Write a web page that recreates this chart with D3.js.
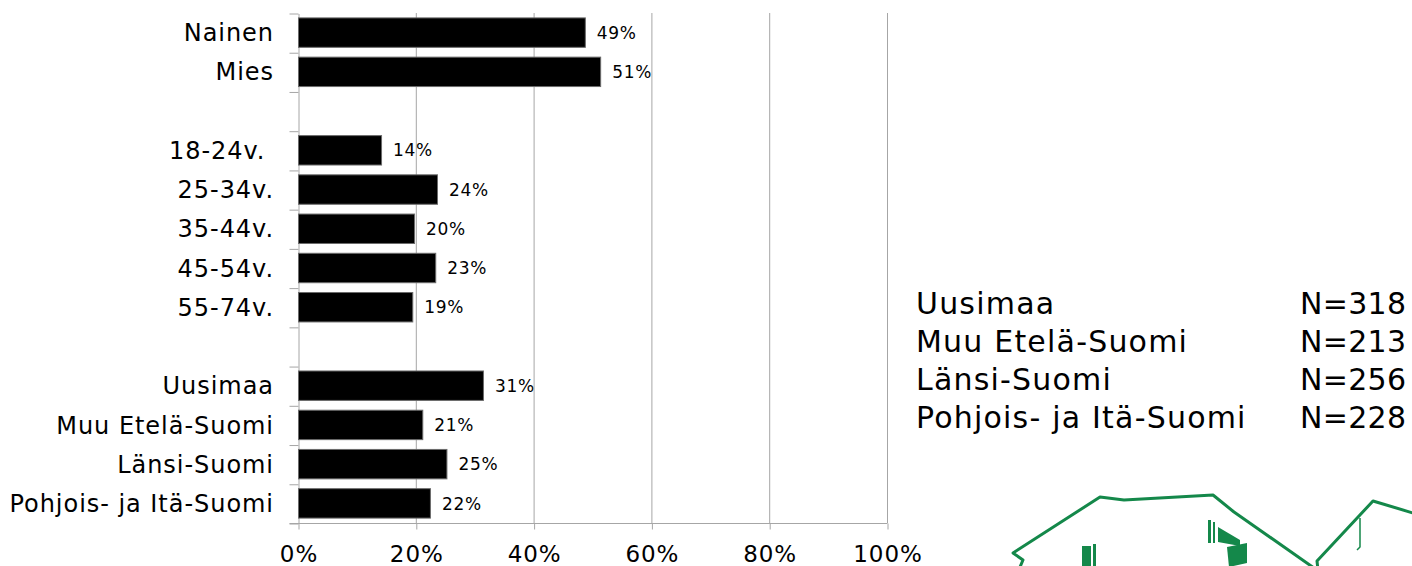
<!DOCTYPE html>
<html>
<head>
    <meta charset="utf-8">
    <title>Vastaajat</title>
    <script src="https://d3js.org/d3.v7.min.js"></script>
    <style>
        body { margin: 0; background: #fff; }
        text { font-family: "DejaVu Sans", Verdana, sans-serif; white-space: pre; letter-spacing: 0.04em; }
    </style>
</head>
<body>
    <svg id="chart"></svg>
    <script>
        // categories (empty strings are the gaps between groups)
        const categories = ["Nainen", "Mies", "", "18-24v. ", "25-34v.", "35-44v.", "45-54v.", "55-74v.", "",
            "Uusimaa", "Muu Etelä-Suomi", "Länsi-Suomi", "Pohjois- ja Itä-Suomi"];
        // share of respondents, %
        const values = [48.7, 51.3, null, 14.1, 23.6, 19.7, 23.3, 19.4, null, 31.4, 21.1, 25.2, 22.4];
        const xTicks = [0, 20, 40, 60, 80, 100];

        // sample sizes shown on the right
        const regions = ["Uusimaa", "Muu Etelä-Suomi", "Länsi-Suomi", "Pohjois- ja Itä-Suomi"];
        const regionN = [318, 213, 256, 228];

        const W = 1412, H = 566;
        const svg = d3.select('#chart')
            .attr('width', W)
            .attr('height', H);

        const x = d3.scaleLinear().domain([0, 100]).range([298, 887]);
        const yBand = d3.scaleBand()
            .domain(d3.range(categories.length))
            .range([13, 523])
            .paddingInner(0.25)
            .paddingOuter(0.125);
        // linear scale for the category tick marks between bands
        const yEdge = d3.scaleLinear().domain([0, categories.length]).range([13, 523]);

        // vertical gridlines
        svg.append('g')
            .selectAll('line')
            .data(xTicks.slice(1))
            .join('line')
            .attr('x1', d => x(d) + 0.5)
            .attr('x2', d => x(d) + 0.5)
            .attr('y1', 13)
            .attr('y2', 523)
            .attr('stroke', '#a6a6a6')
            .attr('stroke-width', 1);

        // left axis with ticks between categories
        const yAxis = svg.append('g')
            .attr('transform', 'translate(298.5,0.5)')
            .call(d3.axisLeft(yEdge).tickValues(d3.range(categories.length + 1))
                .tickSize(9).tickSizeOuter(0).tickFormat(''));
        yAxis.select('.domain').attr('stroke', '#a6a6a6');
        yAxis.selectAll('.tick line').attr('stroke', '#a6a6a6');

        // bottom axis
        const xAxis = svg.append('g')
            .attr('transform', 'translate(0.5,523.5)')
            .call(d3.axisBottom(x).tickValues(xTicks).tickSize(6).tickSizeOuter(0)
                .tickFormat(d => d + '%'));
        xAxis.select('.domain').attr('stroke', '#a6a6a6').attr('d', 'M289,0H' + x(100));
        xAxis.selectAll('.tick line').attr('stroke', '#a6a6a6');
        xAxis.selectAll('.tick text')
            .attr('y', 38)
            .attr('dy', 0)
            .attr('font-size', '23px')
            .attr('fill', '#000');

        // category labels
        svg.append('g')
            .selectAll('text')
            .data(categories)
            .join('text')
            .attr('x', 274)
            .attr('y', (d, i) => yBand(i) + yBand.bandwidth() / 2)
            .attr('dy', '0.36em')
            .attr('text-anchor', 'end')
            .attr('font-size', '24px')
            .attr('fill', '#000')
            .text(d => d);

        const rows = values.map((v, i) => ({ v, i })).filter(d => d.v !== null);

        // bars
        svg.append('g')
            .selectAll('rect')
            .data(rows)
            .join('rect')
            .attr('x', x(0) + 0.5)
            .attr('y', d => yBand(d.i))
            .attr('width', d => x(d.v) - x(0))
            .attr('height', yBand.bandwidth())
            .attr('fill', '#000')
            .attr('stroke', '#6b6b6b')
            .attr('stroke-width', 1);

        // value labels
        svg.append('g')
            .selectAll('text')
            .data(rows)
            .join('text')
            .attr('x', d => x(d.v) + 12)
            .attr('y', d => yBand(d.i) + yBand.bandwidth() / 2)
            .attr('dy', '0.36em')
            .attr('font-size', '17px')
            .attr('fill', '#000')
            .text(d => Math.round(d.v) + '%');

        // sample size table
        const leg = svg.append('g');
        leg.selectAll('text.name')
            .data(regions)
            .join('text')
            .attr('class', 'name')
            .attr('x', 916)
            .attr('y', (d, i) => 314 + i * 38)
            .attr('font-size', '30px')
            .attr('fill', '#000')
            .text(d => d);
        leg.selectAll('text.n')
            .data(regionN)
            .join('text')
            .attr('class', 'n')
            .attr('x', 1300)
            .attr('y', (d, i) => 314 + i * 38)
            .attr('font-size', '30px')
            .attr('fill', '#000')
            .style('letter-spacing', '0.01em')
            .text(d => 'N=' + d);

        // green house logo in the corner
        const logo = svg.append('g')
            .attr('fill', 'none')
            .attr('stroke', '#14884a')
            .attr('stroke-width', 3)
            .attr('stroke-linejoin', 'round');
        logo.append('path')
            .attr('d', 'M1020,567 L1023,560 L1013,553 L1100,497 L1124,500 L1213,495 L1234,512 L1314,568');
        logo.append('path')
            .attr('d', 'M1318,570 L1317,561 L1373,501 L1413,513');
        logo.append('path')
            .attr('d', 'M1360,518 L1360,547 L1357,550')
            .attr('stroke-width', 1.5);
        const solid = svg.append('g').attr('fill', '#14884a');
        solid.append('rect').attr('x', 1082).attr('y', 546).attr('width', 9).attr('height', 22);
        solid.append('rect').attr('x', 1093).attr('y', 544).attr('width', 3).attr('height', 24);
        solid.append('rect').attr('x', 1208).attr('y', 520).attr('width', 3).attr('height', 23);
        solid.append('rect').attr('x', 1213).attr('y', 522).attr('width', 2).attr('height', 21);
        solid.append('path').attr('d', 'M1218,527 L1240,540 L1240,546 L1218,542 Z');
        solid.append('path').attr('d', 'M1227,547 L1247,543 L1247,563 L1229,567 Z');
    </script>
</body>
</html>
